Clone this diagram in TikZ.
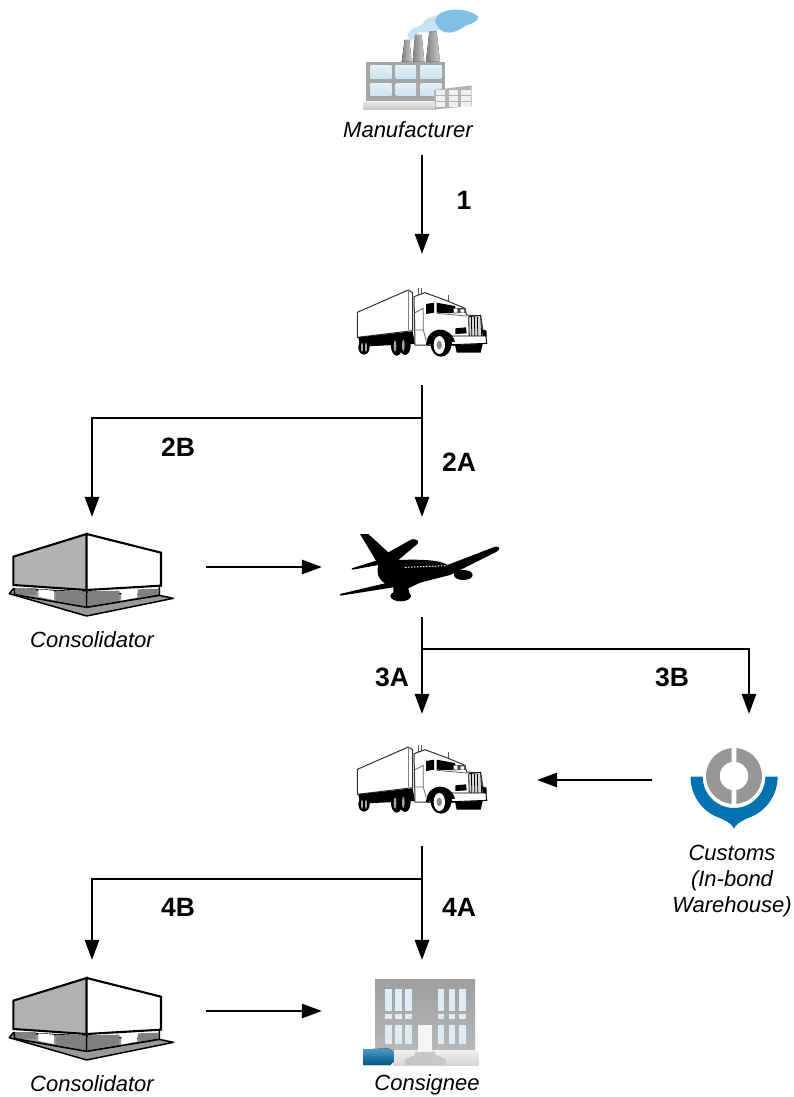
\documentclass[tikz,border=0pt]{standalone}
\usepackage{fontspec}
\setmainfont{Liberation Sans}
\usetikzlibrary{arrows.meta}

\definecolor{wallgrey}{RGB}{178,178,178}
\definecolor{blockgrey}{RGB}{128,128,128}
\definecolor{paneblue}{RGB}{206,228,240}
\definecolor{smokeblue}{RGB}{130,190,230}
\definecolor{logoblue}{RGB}{0,114,178}
\definecolor{logogrey}{RGB}{150,150,150}

\tikzset{
    pics/truck/.style={code={
        % trailer
        \draw[black!80, fill=white, line width=1pt] (52,97) -- (205,30) -- (218,38) -- (218,152) -- (52,172) -- cycle;
        \draw[black!50, line width=0.7pt] (205,30) -- (205,150);
        \fill[black] (55,172) -- (218,154) -- (225,192) -- (60,200) -- cycle;
        % exhaust stack
        \draw[black!65, line width=1.3pt] (236,25) -- (236,120) (245,25) -- (245,120);
        \draw[black!65, line width=1pt] (325,44) -- (325,62);
        % cab
        \draw[black!80, fill=white, line width=1pt] (222,50) -- (255,38) -- (320,62) -- (375,85) -- (380,105) -- (422,108) -- (432,170) -- (440,190) -- (330,197) -- (225,195) -- cycle;
        \draw[black!60, line width=0.8pt] (222,150) -- (250,150) (222,100) -- (250,85) -- (250,150) -- (258,180) (290,100) -- (380,108);
        \fill[black] (258,72) -- (282,68) -- (282,98) -- (258,102) -- cycle;
        \fill[black] (290,68) -- (345,78) -- (350,100) -- (290,98) -- cycle;
        \fill[black!70] (338,84) rectangle (378,100);
        \fill[white] (342,86) rectangle (352,98) (362,88) rectangle (372,98);
        % grille
        \draw[black, line width=0.8pt, fill=black!15] (386,110) -- (422,106) -- (426,184) -- (388,186) -- cycle;
        \foreach \gx in {394,403,412}
            \draw[black, line width=0.8pt] (\gx,110) -- (\gx+2,185);
        \fill[black] (346,145) -- (378,142) -- (380,160) -- (346,162) -- cycle;
        \fill[black] (426,148) -- (440,152) -- (440,172) -- (428,172) -- cycle;
        % bumper and front axle
        \fill[black] (345,195) -- (428,192) -- (422,218) -- (350,218) -- cycle;
        \draw[black, fill=white, line width=0.9pt] (330,168) -- (438,168) -- (440,190) -- (335,194) -- cycle;
        % fender and wheels
        \fill[black] (258,195) .. controls (262,135) and (330,135) .. (345,185) -- (258,195) -- cycle;
        \fill[black] (72,202) ellipse (17 and 22);
        \fill[black!35] (66,202) ellipse (3 and 14) (78,202) ellipse (3 and 14);
        \fill[black] (170,198) ellipse (17 and 29) (195,196) ellipse (17 and 29);
        \fill[black!35] (165,198) ellipse (4 and 17) (190,196) ellipse (4 and 17);
        \fill[black] (303,193) ellipse (31 and 37);
        \fill[white] (298,195) ellipse (17 and 27);
        \fill[black!45] (298,195) ellipse (8 and 13);
    }},
    pics/depot/.style={code={
        % floor plate
        \draw[black, line width=1.5pt, fill=blockgrey!80, line join=round] (28,221) -- (260,288) -- (520,235) -- (478,226) -- (40,206) -- cycle;
        % loading blocks
        \fill[blockgrey] (46,204) rectangle (108,226);
        \fill[white] (115,208) -- (162,212) -- (162,240) -- (115,230) -- cycle;
        \fill[blockgrey] (168,212) -- (258,214) -- (258,258) -- (168,242) -- cycle;
        \fill[blockgrey] (264,214) -- (358,212) -- (358,242) -- (264,258) -- cycle;
        \fill[white] (364,212) -- (412,210) -- (412,232) -- (364,242) -- cycle;
        \fill[blockgrey] (414,208) -- (476,206) -- (476,226) -- (414,232) -- cycle;
        \draw[black, line width=1.6pt] (260,210) -- (260,262) (42,205) -- (44,224) -- (260,262) -- (478,226) -- (478,200);
        % walls
        \draw[black, line width=2.1pt, fill=wallgrey] (40,110) -- (260,42) -- (260,210) -- (40,195) -- cycle;
        \draw[black, line width=2.1pt, fill=white] (260,42) -- (483,98) -- (483,197) -- (260,210) -- cycle;
    }},
    pics/jet/.style={code={
        \fill[black] (90,42) -- (115,42) -- (175,97) -- (245,58) .. controls (260,55) and (270,65) .. (262,72) -- (205,120)
            .. controls (260,118) and (330,118) .. (352,135) -- (495,80) .. controls (510,78) and (512,88) .. (500,95)
            -- (360,165) -- (270,188) -- (235,205) -- (240,225) -- (190,225) -- (190,202) -- (32,227) -- (30,222) -- (165,190)
            .. controls (140,175) and (140,150) .. (145,135) -- (68,149) -- (65,145) -- (138,122) -- cycle;
        \fill[black] (370,150) -- (400,150) -- (400,175) -- (375,170) -- cycle;
        \fill[black] (400,165) ellipse (28 and 15);
        \fill[black] (212,228) ellipse (31 and 16);
        \draw[white, line width=1pt, dash pattern=on 1.5pt off 1.5pt] (225,142) -- (350,137);
    }},
    pics/factory/.style={code={
        % smoke
        \fill[smokeblue!45] (262,105) .. controls (275,75) and (300,85) .. (310,70) .. controls (320,45) and (350,55) .. (365,35) -- (400,60) -- (340,100) -- (300,95) -- (272,125) -- cycle;
        \fill[smokeblue] (345,60) .. controls (360,20) and (440,20) .. (475,50) .. controls (470,75) and (440,70) .. (425,85) .. controls (395,105) and (355,105) .. (345,60) -- cycle;
        % stacks
        \fill[left color=black!50, right color=black!20] (245,185) -- (254,120) -- (268,120) -- (275,185) -- cycle;
        \fill[left color=black!50, right color=black!20] (278,185) -- (285,105) -- (305,105) -- (313,185) -- cycle;
        \fill[left color=black!50, right color=black!20] (318,185) -- (328,95) -- (350,95) -- (360,185) -- cycle;
        % building
        \fill[black!35] (137,185) rectangle (375,305);
        \foreach \wx in {152,226,302}
            \foreach \wy in {198,250}
                \fill[top color=paneblue!60, bottom color=paneblue] (\wx,\wy) rectangle ++(62,38);
        \fill[top color=black!8, bottom color=black!22] (130,305) rectangle (350,328);
        % pallet
        \fill[black!30] (342,270) -- (455,256) -- (455,318) -- (345,328) -- cycle;
        \foreach \px in {348,386,424}
            \foreach \py in {270,288,306}
                \fill[black!6] (\px,\py) rectangle ++(28,14);
    }},
    pics/logo/.style={code={
        \fill[logogrey, even odd rule] (192,138) circle (84) (192,138) circle (43);
        \fill[white] (185,50) rectangle (199,100) (185,176) rectangle (199,226);
        \fill[logoblue] (62,140) -- (98,140) arc (180:0:94) -- (323,140)
            arc (0:72:131) .. controls (205,278) and (197,285) .. (192,296)
            .. controls (187,285) and (179,278) .. (152,265) arc (108:180:131) -- cycle;
    }},
    pics/office/.style={code={
        \fill[top color=black!38, bottom color=black!28] (75,28) rectangle (375,240);
        \foreach \wx in {105,135,166,263,296,328} {
            \fill[paneblue!70] (\wx,58) rectangle ++(20,65);
            \fill[paneblue!70] (\wx,132) rectangle ++(20,15);
            \fill[paneblue!70] (\wx,166) rectangle ++(20,55);
        }
        \fill[top color=black!6, bottom color=black!16] (130,240) rectangle (385,285);
        \fill[black!22] (165,285) -- (165,268) -- (195,255) -- (195,245) -- (255,245) -- (255,255) -- (288,268) -- (288,285) -- cycle;
        \fill[black!4] (205,165) rectangle (245,245);
        \fill[top color=logoblue!70, bottom color=logoblue!75!black] (40,238) -- (115,235) -- (130,245) -- (130,275) -- (120,285) -- (40,285) -- cycle;
    }}
}

\begin{document}
\begin{tikzpicture}[
    x=1pt, y=-1pt,
    >={Triangle[length=20pt,width=14.5pt]},
    flow/.style={->, line width=1.5pt},
    spot/.style={inner sep=0pt, minimum width=#1},
    caption/.style={font=\fontsize{22}{26}\selectfont\itshape, align=center, inner sep=0pt},
    hop/.style={font=\fontsize{26.5}{30}\selectfont\bfseries, inner sep=0pt},
    icon/.style={scale=1/3}
]

\useasboundingbox (0,0) rectangle (794,1097);

% Pictures of the stations
\pic[icon] at (320,0)   {factory};
\pic[icon] at (340,280) {truck};
\pic[icon] at (0,520)   {depot};
\pic[icon] at (330,520) {jet};
\pic[icon] at (340,737) {truck};
\pic[icon] at (670,730) {logo};
\pic[icon] at (0,964)   {depot};
\pic[icon] at (350,970) {office};

% Empty boxes round the pictures, the arrows end on them
\node[spot=150pt, minimum height=110pt] (mfr)    at (422,100)   {};
\node[spot=130pt, minimum height=131pt] (truckA) at (422,319.5) {};
\node[spot=228pt, minimum height=100pt] (conA)   at (92,567)    {};
\node[spot=200pt, minimum height=100pt] (air)    at (422,567)   {};
\node[spot=230pt, minimum height=132pt] (truckB) at (422,780)   {};
\node[spot=194pt, minimum height=132pt] (bond)   at (749,780)   {};
\node[spot=228pt, minimum height=102pt] (conB)   at (92,1011)   {};
\node[spot=200pt, minimum height=102pt] (cons)   at (422,1011)  {};

% Where the lines fork
\coordinate (forkA) at (422,418);
\coordinate (forkB) at (422,649);
\coordinate (forkC) at (422,879);

% Arrows
\draw[flow] (mfr.south) -- (truckA.north);
\draw[flow] (truckA.south) -- (air.north);
\draw[flow] (forkA) -| (conA.north);
\draw[flow] (conA.east) -- (air.west);
\draw[flow] (air.south) -- (truckB.north);
\draw[flow] (forkB) -| (bond.north);
\draw[flow] (bond.west) -- (truckB.east);
\draw[flow] (truckB.south) -- (cons.north);
\draw[flow] (forkC) -| (conB.north);
\draw[flow] (conB.east) -- (cons.west);

% Names
\node[caption] (mfrName)  at (408,130)  {Manufacturer};
\node[caption] (conNameA) at (92,639.5) {Consolidator};
\node[caption] (bondName) at (732,881)  {Customs\\(In-bond\\Warehouse)};
\node[caption] (conNameB) at (92,1084)  {Consolidator};
\node[caption] (consName) at (427,1085) {Consignee};

% Hop numbers
\node[hop] (hop1)  at (464,200) {1};
\node[hop] (hop2b) at (178,447) {2B};
\node[hop] (hop2a) at (459,462) {2A};
\node[hop] (hop3a) at (392,677) {3A};
\node[hop] (hop3b) at (672,677) {3B};
\node[hop] (hop4b) at (178,907) {4B};
\node[hop] (hop4a) at (459,907) {4A};

\end{tikzpicture}
\end{document}
